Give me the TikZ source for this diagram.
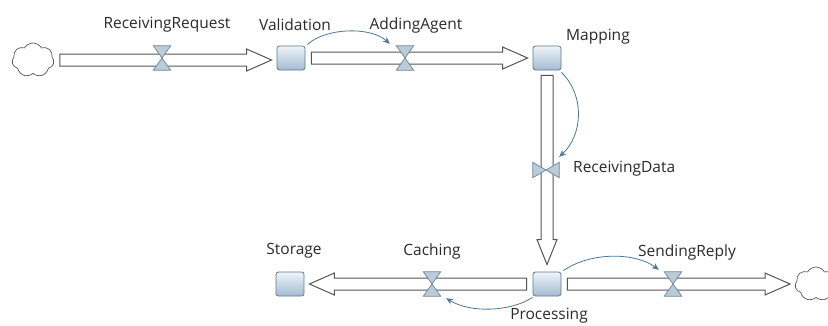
\documentclass[tikz,border=0pt]{standalone}
\usepackage{fontspec}
\setmainfont{Open Sans}
\usetikzlibrary{shapes.symbols,calc,arrows.meta}
\definecolor{pipeline}{HTML}{555555}
\definecolor{valvefill}{HTML}{B9CCD8}
\definecolor{valveline}{HTML}{6E8596}
\definecolor{stocktop}{HTML}{EEF4FA}
\definecolor{stockbot}{HTML}{A3BCD2}
\definecolor{stockline}{HTML}{5E7890}
\definecolor{inflcol}{HTML}{4F7896}
\definecolor{txt}{HTML}{2A2A2A}
\tikzset{
 stock/.style={rectangle, rounded corners=2.5pt, minimum width=28pt, minimum height=24pt, draw=stockline, top color=stocktop, bottom color=stockbot, line width=0.8pt, inner sep=0},
 cloudnode/.style={cloud, cloud puffs=7, cloud puff arc=120, cloud ignores aspect, draw=gray!70!black, fill=white, minimum width=42pt, minimum height=34pt, inner sep=0, line width=0.7pt},
 valveH/.style={rectangle, minimum width=17pt, minimum height=24pt, inner sep=0},
 valveV/.style={rectangle, minimum width=26pt, minimum height=15pt, inner sep=0},
 valvedraw/.style={draw=valveline, fill=valvefill, line width=0.7pt, line join=miter},
 pipe/.style={draw=pipeline, fill=white, line width=1pt, line join=miter},
 infl/.style={draw=inflcol, line width=0.8pt, -{Stealth[length=7pt,width=6pt]}},
 lbl/.style={font=\fontsize{15.5}{17}\selectfont, text=txt, inner sep=0},
}
% horizontal pipe: #1 start anchor, #2 end anchor, #3 direction (1 right, (-1) left)
\newcommand{\pipeH}[3]{%
 \draw[pipe] let \p1=(#1), \p2=(#2) in
  ({\x1+#3*6pt},{\y1+6pt}) -- ({\x2-#3*30pt},{\y1+6pt}) -- ({\x2-#3*30pt},{\y1+11pt}) -- ({\x2-#3*5pt},\y1) -- ({\x2-#3*30pt},{\y1-11pt}) -- ({\x2-#3*30pt},{\y1-6pt}) -- ({\x1+#3*6pt},{\y1-6pt}) -- cycle;}
\newcommand{\valveHdraw}[1]{\filldraw[valvedraw] (#1.north west) -- (#1.north east) -- (#1.south west) -- (#1.south east) -- cycle;}
\newcommand{\valveVdraw}[1]{\filldraw[valvedraw] (#1.north west) -- (#1.south west) -- (#1.north east) -- (#1.south east) -- cycle;}
\begin{document}
\begin{tikzpicture}[x=1pt,y=-1pt]
\useasboundingbox[fill=white] (0,0) rectangle (828,325);
% clouds and stocks
\node[cloudnode] (c1) at (33,60) {};
\node[cloudnode] (c2) at (816,284) {};
\node[stock] (validation) at (291,58) {};
\node[stock] (mapping) at (547,58) {};
\node[stock] (processing) at (547,284) {};
\node[stock] (storage) at (290,284) {};
% valves (placeholders)
\node[valveH] (v1) at (162,58) {};
\node[valveH] (v2) at (405,58) {};
\node[valveV] (v3) at (546,170) {};
\node[valveH] (v4) at (432,284) {};
\node[valveH] (v5) at (673,284) {};
% pipes
\pipeH{c1.east}{validation.west}{1}
\pipeH{validation.east}{mapping.west}{1}
\pipeH{processing.west}{storage.east}{(-1)}
\pipeH{processing.east}{c2.west}{1}
\draw[pipe] let \p1=(mapping.south), \p2=(processing.north) in
  ({\x1-6pt},{\y1-5pt}) -- ({\x1-6pt},{\y2+32pt}) -- ({\x1-10pt},{\y2+32pt}) -- (\x1,{\y2+7pt}) -- ({\x1+10pt},{\y2+32pt}) -- ({\x1+6pt},{\y2+32pt}) -- ({\x1+6pt},{\y1-5pt}) -- cycle;
% valve shapes
\valveHdraw{v1}
\valveHdraw{v2}
\valveVdraw{v3}
\valveHdraw{v4}
\valveHdraw{v5}
% influences
\draw[infl] ($(validation.north east)+(2,-1)$) .. controls (325,28) and (370,26) .. ($(v2.north west)+(-6.5,-2)$);
\draw[infl] ($(mapping.south east)+(0,2)$) .. controls (585,95) and (583,135) .. ($(v3.north east)+(0,-5.5)$);
\draw[infl] ($(processing.south west)+(0,1)$) .. controls (510,312) and (470,313) .. ($(v4.south east)+(5.5,2)$);
\draw[infl] ($(processing.north east)+(2,-1)$) .. controls (590,252) and (635,252) .. ($(v5.north west)+(-5.5,-2)$);
% labels
\node[lbl] (lRR) at (167,25) {ReceivingRequest};
\node[lbl] (lVal) at (295,25) {Validation};
\node[lbl] (lAA) at (416,25) {AddingAgent};
\node[lbl,anchor=west] (lMap) at (566,37) {Mapping};
\node[lbl,anchor=west] (lRD) at (573,169) {ReceivingData};
\node[lbl] (lSto) at (294,251) {Storage};
\node[lbl] (lCach) at (432,251) {Caching};
\node[lbl] (lSR) at (687,252) {SendingReply};
\node[lbl] (lProc) at (549,316) {Processing};
\end{tikzpicture}
\end{document}
